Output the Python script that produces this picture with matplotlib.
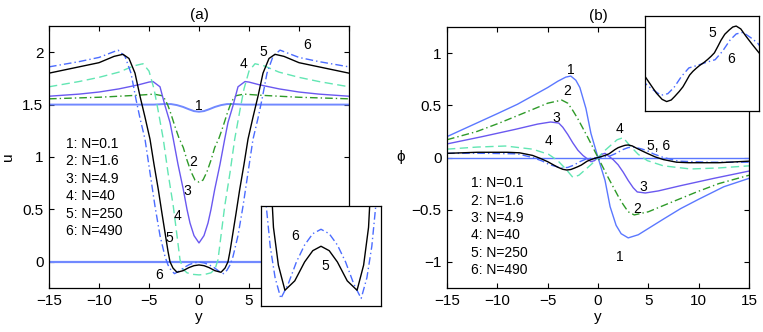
import matplotlib
matplotlib.use("Agg")
import matplotlib.pyplot as plt

plt.rcParams['font.family'] = ['Liberation Sans', 'DejaVu Sans']

# ---- panel (a): u(y) ----
ya1 = [-15, -8, -4.5, -3.5, -2.8, -2.2, -1.6, -1.0, -0.5, 0, 0.5, 1.0, 1.6, 2.2, 2.8, 3.5, 4.5, 8, 15]
ua1 = [1.5, 1.5, 1.5, 1.505, 1.505, 1.495, 1.478, 1.455, 1.438, 1.432, 1.438, 1.455, 1.478, 1.495, 1.505, 1.505, 1.5, 1.5, 1.5]

ya2 = [-15, -10, -6, -4.5, -3.7, -3.4, -3.1, -2.8, -2.4, -2.0, -1.57, -1.2, -0.8, -0.4, 0,
       0.4, 0.8, 1.2, 1.57, 2.0, 2.4, 2.8, 3.1, 3.4, 3.7, 4.5, 6, 10, 15]
ua2 = [1.555, 1.57, 1.59, 1.60, 1.585, 1.55, 1.49, 1.41, 1.29, 1.18, 1.09, 0.97, 0.86, 0.78, 0.76,
       0.78, 0.86, 0.97, 1.09, 1.18, 1.29, 1.41, 1.49, 1.55, 1.585, 1.60, 1.59, 1.57, 1.555]

ya3 = [-15, -12, -10, -8, -6, -5, -4.6, -3.9, -3.4, -2.9, -2.57, -2.1, -1.57, -1.2, -0.9, -0.5, 0,
       0.5, 0.9, 1.2, 1.57, 2.1, 2.57, 2.9, 3.4, 3.9, 4.6, 5, 6, 8, 10, 12, 15]
ua3 = [1.58, 1.60, 1.62, 1.65, 1.69, 1.715, 1.72, 1.67, 1.49, 1.33, 1.17, 0.93, 0.69, 0.50, 0.37, 0.25, 0.18,
       0.25, 0.37, 0.50, 0.69, 0.93, 1.17, 1.33, 1.49, 1.67, 1.72, 1.715, 1.69, 1.65, 1.62, 1.60, 1.58]

ya4 = [-15, -12, -10, -8, -6.5, -5.6, -5.0, -4.5, -4.1, -3.57, -3.1, -2.57, -2.2, -1.9, -1.6, -1.2, -0.6, 0,
       0.6, 1.2, 1.6, 1.9, 2.2, 2.57, 3.1, 3.57, 4.1, 4.5, 5.0, 5.6, 6.5, 8, 10, 12, 15]
ua4 = [1.67, 1.72, 1.76, 1.81, 1.87, 1.89, 1.82, 1.65, 1.45, 1.17, 0.85, 0.53, 0.25, 0.02, -0.07, -0.105, -0.12, -0.125,
       -0.12, -0.105, -0.07, 0.02, 0.25, 0.53, 0.85, 1.17, 1.45, 1.65, 1.82, 1.89, 1.87, 1.81, 1.76, 1.72, 1.67]

ya5 = [-15, -12, -10, -8.5, -7.6, -7.0, -6.4, -5.9, -5.4, -4.9, -4.5, -4.07, -3.7, -3.4, -3.1, -2.9, -2.6, -2.2,
       -1.6, -1.0, -0.5, 0, 0.5, 1.0, 1.6, 2.2, 2.6, 2.9, 3.1, 3.4, 3.7, 4.07, 4.5, 4.9, 5.4, 5.9, 6.4, 7.0,
       7.6, 8.5, 10, 12, 15]
ua5 = [1.80, 1.86, 1.90, 1.96, 1.98, 1.94, 1.80, 1.58, 1.38, 1.17, 0.93, 0.69, 0.46, 0.28, 0.10, 0.0, -0.06, -0.10,
       -0.085, -0.055, -0.037, -0.03, -0.037, -0.055, -0.085, -0.10, -0.06, 0.0, 0.10, 0.28, 0.46, 0.69, 0.93, 1.17,
       1.38, 1.58, 1.80, 1.94, 1.98, 1.96, 1.90, 1.86, 1.80]

ya6 = [-15, -12, -10, -8.1, -7.4, -6.8, -6.3, -5.9, -5.4, -4.9, -4.4, -3.9, -3.4, -3.1, -2.8, -2.45, -2.0, -1.5,
       -1.0, -0.5, 0, 0.5, 1.0, 1.5, 2.0, 2.45, 2.8, 3.1, 3.4, 3.9, 4.4, 4.9, 5.4, 5.9, 6.3, 6.8, 7.4, 8.1,
       10, 12, 15]
ua6 = [1.86, 1.91, 1.95, 2.02, 1.96, 1.80, 1.55, 1.37, 1.17, 0.85, 0.53, 0.25, 0.05, -0.03, -0.08, -0.113, -0.09,
       -0.055, -0.028, -0.01, -0.003, -0.01, -0.028, -0.055, -0.09, -0.113, -0.08, -0.03, 0.05, 0.25, 0.53, 0.85,
       1.17, 1.37, 1.55, 1.80, 1.96, 2.02, 1.95, 1.91, 1.86]

# ---- panel (b): phi(y) ----
yb1 = [-15, -12.5, -10, -8, -6.5, -5, -4, -3.2, -2.7, -2.2, -1.8, -1.2, -0.7, 0,
       0.7, 1.2, 1.8, 2.3, 3.0, 4, 5, 6.5, 8.2, 10, 12.5, 15]
pb1 = [0.20, 0.31, 0.42, 0.51, 0.59, 0.67, 0.73, 0.77, 0.78, 0.74, 0.67, 0.47, 0.23, 0,
       -0.22, -0.47, -0.65, -0.73, -0.77, -0.74, -0.68, -0.59, -0.49, -0.40, -0.28, -0.20]

yb2 = [-15, -12, -9.8, -6.5, -5, -3.6, -3.0, -2.5, -2.0, -1.5, -1.0, -0.5, 0,
       0.5, 1.0, 1.5, 2.0, 2.5, 3.0, 3.6, 5, 6.5, 9.8, 12, 15]
pb2 = [0.17, 0.25, 0.33, 0.46, 0.52, 0.55, 0.52, 0.45, 0.37, 0.28, 0.19, 0.095, 0,
       -0.095, -0.19, -0.28, -0.37, -0.45, -0.52, -0.55, -0.52, -0.46, -0.33, -0.25, -0.17]

yb3 = [-15, -11.5, -8.2, -6, -4.7, -3.9, -3.5, -3.0, -2.5, -2.0, -1.5, -1.1, -0.7, -0.35, 0,
       0.35, 0.7, 1.1, 1.5, 2.0, 2.5, 3.0, 3.5, 3.9, 4.7, 6, 8.2, 11.5, 15]
pb3 = [0.13, 0.20, 0.27, 0.32, 0.34, 0.33, 0.29, 0.22, 0.14, 0.07, 0.02, -0.01, -0.04, -0.03, 0,
       0.03, 0.04, 0.01, -0.02, -0.07, -0.14, -0.22, -0.29, -0.33, -0.34, -0.32, -0.27, -0.20, -0.13]

yb4 = [-15, -12, -9.2, -6.5, -4.9, -4.0, -3.2, -2.5, -1.9, -1.3, -0.6, 0,
       0.6, 1.3, 1.9, 2.5, 3.2, 4.0, 4.9, 6.5, 9.2, 12, 15]
pb4 = [0.08, 0.10, 0.11, 0.08, 0.03, -0.03, -0.11, -0.19, -0.17, -0.12, -0.06, 0,
       0.06, 0.12, 0.17, 0.19, 0.11, 0.03, -0.03, -0.08, -0.11, -0.10, -0.08]

yb5 = [-15, -12, -9, -7.8, -6.5, -5.7, -5, -4.4, -4, -3.5, -3.1, -2.7, -2.4, -2.0, -1.67, -1.4, -1.09,
       -0.8, -0.5, -0.2, 0, 0.2, 0.5, 0.8, 1.09, 1.4, 1.67, 2.0, 2.4, 2.7, 3.0, 3.4, 3.85, 4.4, 5, 5.7,
       6.5, 7.8, 9, 12, 15]
pb5 = [0.04, 0.05, 0.05, 0.045, 0.02, -0.01, -0.04, -0.072, -0.093, -0.113, -0.12, -0.115, -0.104, -0.088,
       -0.073, -0.056, -0.036, -0.024, -0.014, -0.005, 0.0, 0.005, 0.014, 0.024, 0.035, 0.056, 0.075, 0.094,
       0.108, 0.117, 0.12, 0.111, 0.088, 0.062, 0.035, 0.005, -0.02, -0.045, -0.05, -0.05, -0.035]

yb6 = [-15, -11, -8, -6.5, -5.5, -4.9, -4.4, -3.6, -3.0, -2.45, -1.8, -1.15, -0.4, 0,
       0.4, 1.15, 1.8, 2.45, 3.0, 3.6, 4.4, 4.9, 5.5, 6.5, 8, 11, 15]
pb6 = [0.04, 0.04, 0.035, 0.0, -0.035, -0.065, -0.08, -0.10, -0.095, -0.075, -0.04, -0.013, -0.005, 0,
       0.005, 0.013, 0.04, 0.075, 0.095, 0.10, 0.08, 0.065, 0.035, 0.0, -0.035, -0.045, -0.045]

legend_text = ['1: N=0.1', '2: N=1.6', '3: N=4.9', '4: N=40', '5: N=250', '6: N=490']
xticks = [-15, -10, -5, 0, 5, 10, 15]
xticklabels = ['\u221215', '\u221210', '\u22125', '0', '5', '10', '15']
uticks = [0, 0.5, 1, 1.5, 2]
uticklabels = ['0', '0.5', '1', '1.5', '2']
pticks = [-1, -0.5, 0, 0.5, 1]
pticklabels = ['\u22121', '\u22120.5', '0', '0.5', '1']

C1 = '#5b78ff'
C1L = '#7189ff'
C2 = '#2e9a28'
C3 = '#6a58f0'
C4 = '#62e6b3'
C5 = 'black'
C6 = '#4b6cff'
DASH = (6, 3.2)
DASHDOT = (5.5, 2.2, 1, 2.2)


def style_axes(ax):
    ax.tick_params(direction='in', length=3.5, width=0.8, top=True, right=True,
                   labelsize=11, pad=4)
    for s in ax.spines.values():
        s.set_linewidth(0.9)


def draw_curves(ax, data, lw=1.0):
    (x1, v1), (x2, v2), (x3, v3), (x4, v4), (x5, v5), (x6, v6) = data
    ax.plot(x2, v2, color=C2, lw=lw, dashes=DASHDOT)
    ax.plot(x3, v3, color=C3, lw=lw)
    ax.plot(x4, v4, color=C4, lw=lw, dashes=DASH)
    ax.plot(x6, v6, color=C6, lw=lw, dashes=DASHDOT)
    ax.plot(x5, v5, color=C5, lw=lw)


fig = plt.figure(figsize=(7.63, 3.32), dpi=100)

# ---------------- (a) ----------------
ax1 = fig.add_axes([49 / 763, 44 / 332, 300 / 763, 262 / 332])
ax1.axhline(0, color=C1L, lw=1.6)
ax1.plot(ya1, ua1, color=C1L, lw=1.4)
draw_curves(ax1, [(ya1, ua1), (ya2, ua2), (ya3, ua3), (ya4, ua4), (ya5, ua5), (ya6, ua6)])
ax1.set_xlim(-15, 15)
ax1.set_ylim(-0.25, 2.25)
ax1.set_xticks(xticks)
ax1.set_xticklabels(xticklabels)
ax1.set_yticks(uticks)
ax1.set_yticklabels(uticklabels)
style_axes(ax1)
ax1.set_title('(a)', fontsize=11, pad=5)
ax1.set_xlabel('y', fontsize=11, labelpad=2)
ax1.set_ylabel('u', fontsize=11, labelpad=5)

for i, t in enumerate(legend_text):
    ax1.text(-13.3, 1.125 - 0.167 * i, t, fontsize=10, ha='left', va='center')

lbl_a = [('1', 0, 1.49), ('2', -0.6, 0.95), ('3', -1.2, 0.68), ('4', -2.1, 0.44),
         ('5', -3.0, 0.23), ('6', -4.0, -0.13), ('4', 4.5, 1.89), ('5', 6.4, 2.0), ('6', 10.8, 2.07)]
for t, x, y in lbl_a:
    ax1.text(x, y, t, fontsize=10, ha='center', va='center')

ins1 = fig.add_axes([261 / 763, 26 / 332, 120 / 763, 100 / 332])
ins1.plot(ya6, ua6, color=C6, lw=1.0, dashes=DASHDOT)
ins1.plot(ya5, ua5, color=C5, lw=1.0)
ins1.set_xlim(-3.66, 3.66)
ins1.set_ylim(-0.125, 0.034)
ins1.set_xticks([])
ins1.set_yticks([])
for s in ins1.spines.values():
    s.set_linewidth(0.9)
ins1.text(-1.6, -0.014, '6', fontsize=10, ha='center', va='center')
ins1.text(0.25, -0.062, '5', fontsize=10, ha='center', va='center')

# ---------------- (b) ----------------
ax2 = fig.add_axes([447 / 763, 44 / 332, 302 / 763, 261 / 332])
ax2.axhline(0, color=C1, lw=1.0)
ax2.plot(yb1, pb1, color=C1, lw=1.0)
draw_curves(ax2, [(yb1, pb1), (yb2, pb2), (yb3, pb3), (yb4, pb4), (yb5, pb5), (yb6, pb6)])
ax2.set_xlim(-15, 15)
ax2.set_ylim(-1.25, 1.25)
ax2.set_xticks(xticks)
ax2.set_xticklabels(xticklabels)
ax2.set_yticks(pticks)
ax2.set_yticklabels(pticklabels)
style_axes(ax2)
ax2.set_title('(b)', fontsize=11, pad=5)
ax2.set_xlabel('y', fontsize=11, labelpad=2)
ax2.set_ylabel('\u03d5', fontsize=11, labelpad=8, rotation=0, va='center')

for i, t in enumerate(legend_text):
    ax2.text(-12.6, -0.248 - 0.166 * i, t, fontsize=10, ha='left', va='center')

lbl_b = [('1', -2.7, 0.84), ('2', -3.1, 0.64), ('3', -4.1, 0.38), ('4', -4.9, 0.155),
         ('4', 2.15, 0.27), ('5, 6', 6.0, 0.11), ('3', 4.5, -0.28), ('2', 3.9, -0.49), ('1', 2.15, -0.95)]
for t, x, y in lbl_b:
    ax2.text(x, y, t, fontsize=10, ha='center', va='center')

ins2 = fig.add_axes([645 / 763, 221 / 332, 114 / 763, 95 / 332])
ins2.plot(yb6, pb6, color=C6, lw=1.0, dashes=DASHDOT)
ins2.plot(yb5, pb5, color=C5, lw=1.0)
ins2.set_xlim(-5, 5)
ins2.set_ylim(-0.15, 0.152)
ins2.set_xticks([])
ins2.set_yticks([])
for s in ins2.spines.values():
    s.set_linewidth(0.9)
ins2.text(0.94, 0.099, '5', fontsize=10, ha='center', va='center')
ins2.text(2.54, 0.015, '6', fontsize=10, ha='center', va='center')

fig.savefig('out.png', dpi=100)
